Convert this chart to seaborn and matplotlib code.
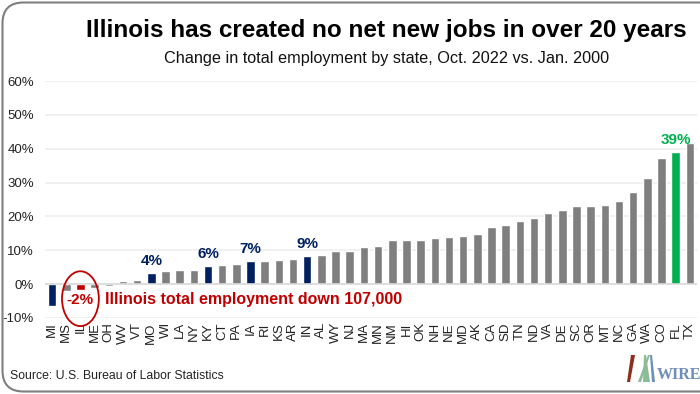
import matplotlib
matplotlib.use("Agg")
import matplotlib.pyplot as plt
import seaborn as sns
import pandas as pd
from matplotlib.patches import FancyBboxPatch, Ellipse, Polygon
from matplotlib.ticker import FuncFormatter, MultipleLocator

states = ["MI", "MS", "IL", "ME", "OH", "WV", "VT", "MO", "WI", "LA", "NY", "KY", "CT", "PA",
          "IA", "RI", "KS", "AR", "IN", "AL", "WY", "NJ", "MA", "MN", "NM", "HI", "OK", "NH",
          "NE", "MD", "AK", "CA", "SD", "TN", "ND", "VA", "DE", "SC", "OR", "MT", "NC", "GA",
          "WA", "CO", "FL", "TX"]
values = [-6.6, -1.9, -1.6, -1.0, -0.5, 0.9, 1.2, 3.4, 3.8, 4.1, 4.2, 5.4, 5.8, 6.0,
          6.7, 6.9, 7.1, 7.5, 8.4, 8.6, 9.8, 9.8, 11.1, 11.4, 12.9, 12.9, 13.1, 13.5,
          13.8, 14.1, 14.8, 16.9, 17.5, 18.7, 19.6, 20.9, 22.0, 23.1, 23.1, 23.4, 24.7, 27.2,
          31.4, 37.4, 38.9, 41.7]
navy_states = ["MI", "MO", "KY", "IA", "IN"]
red_states = ["IL"]
green_states = ["FL"]
labels = {"MO": "4%", "KY": "6%", "IA": "7%", "IN": "9%"}
fl_label = "39%"
il_label = "-2%"
title = "Illinois has created no net new jobs in over 20 years"
subtitle = "Change in total employment by state, Oct. 2022 vs. Jan. 2000"
note = "Illinois total employment down 107,000"
source = "Source: U.S. Bureau of Labor Statistics"

NAVY = "#002060"
RED = "#C00000"
GREEN = "#00B050"
GRAY = "#7F7F7F"

def color_for(s):
    if s in navy_states:
        return NAVY
    if s in red_states:
        return RED
    if s in green_states:
        return GREEN
    return GRAY

df = pd.DataFrame({"state": states, "value": values})
palette = {s: color_for(s) for s in states}

sns.set_style("white")
plt.rcParams["font.family"] = ["Liberation Sans", "DejaVu Sans"]

fig = plt.figure(figsize=(7.0, 3.94), dpi=100)
ax = fig.add_axes([45 / 700, (394 - 318) / 394, (697 - 45) / 700, (318 - 81) / 394])

sns.barplot(data=df, x="state", y="value", hue="state", palette=palette,
            legend=False, width=0.6, ax=ax, saturation=1)

ax.set_ylim(-10, 60)
ax.set_xlim(-0.5, len(states) - 0.5)
ax.yaxis.set_major_locator(MultipleLocator(10))
ax.yaxis.set_major_formatter(FuncFormatter(lambda v, p: f"{int(round(v))}%"))
ax.grid(axis="y", color="#EDEDED", linewidth=1.2, zorder=0)
ax.set_axisbelow(True)
ax.axhline(0, color="#D9D9D9", linewidth=1.2, zorder=1)
for sp in ax.spines.values():
    sp.set_visible(False)
ax.set_xlabel("")
ax.set_ylabel("")
ax.tick_params(axis="y", length=0, labelsize=9.5, pad=8, labelcolor="#222222")
ax.tick_params(axis="x", length=0, labelsize=9.5, pad=3, labelcolor="#222222")
plt.setp(ax.get_xticklabels(), rotation=90, va="top", ha="center")

for s, lab in labels.items():
    i = states.index(s)
    ax.text(i, values[i] + 1.5, lab, color=NAVY, fontsize=11, fontweight="bold",
            ha="center", va="bottom")
i_fl = states.index("FL")
ax.text(i_fl, values[i_fl] + 1.5, fl_label, color=GREEN, fontsize=11, fontweight="bold",
        ha="center", va="bottom")
i_il = states.index("IL")
ax.text(i_il, -4.6, il_label, color=RED, fontsize=11, fontweight="bold",
        ha="center", va="center")
ax.add_patch(Ellipse((i_il, -4.3), width=2.6, height=16.2, fill=False,
                     edgecolor=RED, linewidth=1.3, clip_on=False))
ax.text(i_il + 1.75, -4.6, note, color=RED, fontsize=11.5, fontweight="bold",
        ha="left", va="center")

fig.text(386 / 700, 1 - 31 / 394, title, fontsize=17.5, fontweight="bold", ha="center",
         va="center", color="#000000")
fig.text(387 / 700, 1 - 58 / 394, subtitle, fontsize=11.7, ha="center", va="center",
         color="#111111")
fig.text(10 / 700, 1 - 376 / 394, source, fontsize=8.8, ha="left", va="center",
         color="#222222")

# rounded border
fig.patches.append(FancyBboxPatch((2.5 / 700, 2.5 / 394), 720 / 700, 389 / 394,
                                  boxstyle="round,pad=0,rounding_size=0.03",
                                  transform=fig.transFigure, fill=False,
                                  edgecolor="#7F7F7F", linewidth=1.5,
                                  mutation_aspect=700 / 394))

# logo (decorative)
def px(x, y):
    return (x / 700, 1 - y / 394)
for pts, col in [([(631, 355), (635, 355), (630, 382), (627, 382)], "#8B2E1E"),
                 ([(644, 355), (646, 355), (650, 382), (643, 382)], "#8DBB97"),
                 ([(650, 355), (652, 355), (655, 382), (652, 382)], "#6F8FB8"),
                 ([(648, 355), (650, 355), (641, 382), (638, 382)], "#8DBB97")]:
    fig.patches.append(Polygon([px(*p) for p in pts], closed=True, transform=fig.transFigure,
                               facecolor=col, edgecolor="none"))
fig.text(657 / 700, 1 - 375 / 394, "WIRE", fontsize=11.5, fontweight="bold",
         family=["Liberation Serif", "DejaVu Serif"], color="#6F8FB8", ha="left", va="center")

fig.savefig("out.png", dpi=100)
